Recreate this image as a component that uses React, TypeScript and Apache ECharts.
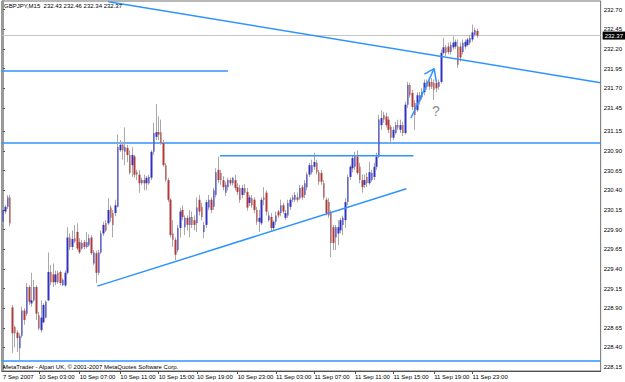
import React, { useEffect, useRef } from "react";
import * as echarts from "echarts";

// ---- candle data (GBPJPY, M15) ----
const opens = [
  230.00, 230.13, 230.19, 230.31, 228.91, 228.66, 228.59, 228.39, 228.55, 228.87,
  228.83, 229.17, 228.96, 229.00, 229.17, 228.81, 228.62, 228.72, 228.78, 229.00,
  229.36, 229.33, 229.23, 229.35, 229.36, 229.19, 229.19, 229.35, 229.80, 229.68,
  229.79, 229.87, 229.74, 229.66, 229.74, 229.68, 229.70, 229.80, 229.47, 229.60,
  229.35, 229.61, 229.85, 229.98, 229.98, 230.18, 230.11, 230.11, 230.19, 230.91,
  230.98, 230.89, 230.94, 230.85, 230.72, 230.83, 230.63, 230.60, 230.49, 230.53,
  230.49, 230.49, 230.56, 230.89, 231.08, 231.14, 231.14, 231.00, 230.72, 230.53,
  230.28, 229.85, 229.77, 229.64, 229.92, 230.15, 229.93, 230.05, 229.96, 230.06,
  230.02, 229.98, 230.28, 230.19, 229.87, 229.96, 230.18, 230.28, 230.19, 230.34,
  230.66, 230.62, 230.53, 230.37, 230.44, 230.53, 230.49, 230.53, 230.44, 230.43,
  230.34, 230.43, 230.38, 230.24, 230.30, 230.28, 230.15, 230.00, 229.98, 230.31,
  230.37, 230.02, 230.06, 229.92, 230.00, 230.13, 230.11, 230.21, 230.05, 230.08,
  230.19, 230.28, 230.28, 230.31, 230.30, 230.44, 230.34, 230.44, 230.60, 230.63,
  230.70, 230.75, 230.63, 230.62, 230.49, 230.28, 230.25, 230.11, 229.93, 229.80,
  229.85, 229.89, 229.96, 230.02, 230.25, 230.57, 230.68, 230.70, 230.83, 230.70,
  230.53, 230.47, 230.57, 230.49, 230.53, 230.57, 230.70, 230.83, 231.23, 231.36,
  231.34, 231.30, 231.21, 231.07, 231.13, 231.23, 231.17, 231.23, 231.13, 231.49,
  231.74, 231.64, 231.51, 231.42, 231.53, 231.58, 231.65, 231.72, 231.78, 231.78,
  231.77, 231.77, 231.72, 231.78, 232.15, 232.22, 232.23, 232.16, 232.22, 232.23,
  232.23, 232.23, 232.16, 232.23, 232.25, 232.28, 232.32, 232.38, 232.43,
];
const closes = [
  230.15, 230.19, 230.31, 229.98, 228.58, 228.58, 228.52, 228.55, 228.87, 228.75,
  229.17, 228.98, 229.00, 229.17, 228.83, 228.64, 228.78, 228.94, 228.98, 229.36,
  229.23, 229.23, 229.33, 229.23, 229.22, 229.26, 229.35, 229.80, 229.68, 229.78,
  229.75, 229.66, 229.61, 229.73, 229.68, 229.74, 229.79, 229.60, 229.61, 229.35,
  229.61, 229.85, 229.96, 229.89, 230.15, 230.05, 229.96, 230.21, 230.95, 230.98,
  230.91, 230.95, 230.85, 230.62, 230.85, 230.60, 230.60, 230.49, 230.53, 230.49,
  230.56, 230.57, 230.89, 231.13, 231.14, 231.11, 231.00, 230.72, 230.53, 230.28,
  229.83, 229.77, 229.58, 229.92, 230.13, 230.06, 230.05, 229.96, 230.06, 229.96,
  229.96, 230.18, 230.13, 230.06, 229.96, 230.25, 230.28, 230.15, 230.40, 230.63,
  230.53, 230.53, 230.44, 230.47, 230.53, 230.49, 230.56, 230.43, 230.38, 230.28,
  230.43, 230.37, 230.18, 230.31, 230.21, 230.15, 230.00, 230.05, 230.28, 230.28,
  230.13, 230.08, 229.92, 230.00, 230.08, 230.08, 230.21, 230.13, 230.11, 230.24,
  230.28, 230.31, 230.34, 230.28, 230.43, 230.31, 230.49, 230.60, 230.72, 230.72,
  230.76, 230.63, 230.51, 230.51, 230.31, 230.11, 230.08, 229.73, 229.73, 229.93,
  229.93, 230.02, 230.05, 230.25, 230.57, 230.70, 230.81, 230.83, 230.62, 230.53,
  230.44, 230.53, 230.49, 230.63, 230.62, 230.70, 230.83, 231.30, 231.32, 231.30,
  231.23, 231.17, 231.07, 231.17, 231.23, 231.20, 231.23, 231.13, 231.49, 231.74,
  231.61, 231.46, 231.36, 231.61, 231.61, 231.65, 231.77, 231.77, 231.72, 231.72,
  231.68, 231.70, 231.78, 232.15, 232.22, 232.15, 232.16, 232.25, 232.28, 232.29,
  232.00, 232.09, 232.28, 232.29, 232.32, 232.34, 232.41, 232.44, 232.37,
];
const lows = [
  229.97, 230.10, 230.16, 229.94, 228.33, 228.40, 228.34, 228.24, 228.52, 228.69,
  228.80, 228.94, 228.92, 228.98, 228.75, 228.62, 228.59, 228.71, 228.77, 228.99,
  229.19, 229.17, 229.19, 229.21, 229.19, 229.18, 229.17, 229.33, 229.64, 229.64,
  229.73, 229.64, 229.59, 229.64, 229.65, 229.66, 229.68, 229.58, 229.45, 229.22,
  229.32, 229.59, 229.82, 229.87, 229.96, 230.00, 229.80, 230.07, 230.18, 230.89,
  230.79, 230.72, 230.76, 230.60, 230.57, 230.56, 230.53, 230.37, 230.47, 230.40,
  230.40, 230.47, 230.53, 230.85, 231.04, 231.04, 230.98, 230.70, 230.51, 230.25,
  229.80, 229.68, 229.51, 229.61, 229.80, 230.02, 229.83, 229.89, 229.80, 229.92,
  229.89, 229.87, 230.08, 230.02, 229.79, 229.92, 230.15, 230.11, 230.15, 230.31,
  230.49, 230.47, 230.40, 230.33, 230.40, 230.46, 230.46, 230.40, 230.34, 230.24,
  230.30, 230.34, 230.14, 230.20, 230.18, 230.11, 229.96, 229.87, 229.96, 230.21,
  230.08, 230.00, 229.87, 229.89, 229.96, 230.05, 230.07, 230.10, 230.02, 230.05,
  230.15, 230.25, 230.25, 230.25, 230.28, 230.28, 230.30, 230.40, 230.57, 230.60,
  230.66, 230.60, 230.47, 230.47, 230.28, 230.08, 230.05, 229.55, 229.64, 229.64,
  229.70, 229.85, 229.83, 229.92, 230.21, 230.53, 230.63, 230.66, 230.60, 230.49,
  230.37, 230.43, 230.44, 230.47, 230.51, 230.53, 230.66, 230.81, 231.17, 231.26,
  231.20, 231.13, 231.00, 231.04, 231.11, 231.17, 231.13, 231.09, 231.11, 231.45,
  231.58, 231.42, 231.17, 231.40, 231.49, 231.55, 231.61, 231.68, 231.68, 231.69,
  231.55, 231.65, 231.68, 231.76, 232.13, 232.11, 232.13, 232.13, 232.19, 232.20,
  231.96, 232.04, 232.13, 232.20, 232.23, 232.25, 232.29, 232.36, 232.34,
];
const highs = [
  230.18, 230.21, 230.34, 230.34, 228.94, 228.68, 228.62, 228.58, 228.92, 228.90,
  229.22, 229.19, 229.35, 229.26, 229.19, 228.85, 229.00, 228.96, 229.00, 229.61,
  229.45, 229.47, 229.38, 229.38, 229.38, 229.28, 229.38, 229.93, 229.85, 229.89,
  229.96, 229.98, 229.79, 229.77, 229.77, 229.87, 229.84, 229.83, 229.64, 229.63,
  229.64, 229.89, 230.00, 230.02, 230.30, 230.21, 230.15, 230.28, 231.11, 231.04,
  231.02, 231.20, 230.98, 230.91, 230.95, 230.85, 230.66, 230.66, 230.56, 230.60,
  230.58, 230.60, 230.91, 231.26, 231.50, 231.34, 231.30, 231.04, 230.75, 230.56,
  230.30, 230.02, 229.80, 229.96, 230.18, 230.21, 230.08, 230.08, 230.15, 230.13,
  230.08, 230.31, 230.34, 230.24, 230.00, 230.28, 230.34, 230.31, 230.43, 230.68,
  230.83, 230.66, 230.58, 230.51, 230.56, 230.56, 230.57, 230.60, 230.49, 230.47,
  230.47, 230.48, 230.43, 230.34, 230.34, 230.31, 230.19, 230.15, 230.31, 230.44,
  230.40, 230.13, 230.11, 230.02, 230.13, 230.15, 230.28, 230.24, 230.15, 230.28,
  230.31, 230.34, 230.38, 230.37, 230.47, 230.47, 230.53, 230.63, 230.75, 230.79,
  230.88, 230.79, 230.66, 230.66, 230.53, 230.31, 230.30, 230.15, 229.96, 229.96,
  230.02, 230.05, 230.08, 230.30, 230.60, 230.72, 230.85, 230.89, 230.91, 230.75,
  230.60, 230.60, 230.62, 230.76, 230.66, 230.75, 230.88, 231.36, 231.42, 231.40,
  231.39, 231.34, 231.23, 231.21, 231.27, 231.30, 231.30, 231.27, 231.53, 231.78,
  231.77, 231.68, 231.55, 231.65, 231.65, 231.70, 231.81, 231.81, 231.81, 231.83,
  231.81, 231.81, 231.81, 232.19, 232.34, 232.25, 232.28, 232.29, 232.36, 232.32,
  232.32, 232.28, 232.32, 232.32, 232.34, 232.38, 232.51, 232.47, 232.46,
];

// ---- axes ----
const slotCount = 250; // bar slots visible on the chart (incl. empty right shift)
const timeLabels = [
  "7 Sep 2007", "10 Sep 03:00", "10 Sep 07:00", "10 Sep 11:00", "10 Sep 15:00",
  "10 Sep 19:00", "10 Sep 23:00", "11 Sep 03:00", "11 Sep 07:00", "11 Sep 11:00",
  "11 Sep 15:00", "11 Sep 19:00", "11 Sep 23:00",
];
const labelBars = [0, 15, 32, 49, 65, 81, 98, 114, 130, 147, 163, 180, 196];
const priceTicks = [
  232.70, 232.45, 232.20, 231.95, 231.70, 231.45, 231.15, 230.90, 230.65, 230.40,
  230.15, 229.90, 229.65, 229.40, 229.15, 228.90, 228.65, 228.40, 228.15,
];
const priceMin = 228.10;
const priceMax = 232.81;

// ---- header / drawing objects ----
const symbolTitle = "GBPJPY,M15  232.43 232.46 232.34 232.37";
const lastPrice = 232.37;
const copyright = "MetaTrader - Alpari UK, © 2001-2007 MetaQuotes Software Corp.";
const fullLevels = [231.00, 228.23];
const trendDown = [[44.0, 232.80], [249.5, 231.77]];
const trendUp = [[39.4, 229.18], [168.4, 230.42]];
const levelLeft = [[-0.5, 231.92], [93.9, 231.92]];
const levelMid = [[90.6, 230.84], [171.3, 230.84]];
const arrowShaft = [[170.3, 231.32], [180.0, 231.95]];
const arrowHead = [[175.9, 231.88], [180.0, 231.95], [180.9, 231.78]];

const BLUE_LINE = "#2f93ff";
const BULL = "#3232c2";
const BEAR = "#b03a3a";
const WICK = "#a9a9a9";
const FONT = "Liberation Sans";

export default function App() {
  const ref = useRef<HTMLDivElement>(null);

  useEffect(() => {
    if (!ref.current) return;
    const chart = echarts.init(ref.current, undefined, { renderer: "svg" });

    const categories = Array.from({ length: slotCount }, (_, i) => String(i));
    const labelMap: Record<number, string> = {};
    labelBars.forEach((b, k) => (labelMap[b] = timeLabels[k]));
    const isLabel = (i: number) => labelMap[i] !== undefined;

    const full = opens.map((o, i) => [o, closes[i], lows[i], highs[i]]);
    const bodies = opens.map((o, i) => [
      o,
      closes[i],
      Math.min(o, closes[i]),
      Math.max(o, closes[i]),
    ]);

    const seg = (data: number[][]) => ({
      type: "line",
      xAxisIndex: 1,
      yAxisIndex: 0,
      data,
      symbol: "none",
      silent: true,
      lineStyle: { color: BLUE_LINE, width: 1.5 },
      z: 5,
    });

    chart.setOption({
      animation: false,
      backgroundColor: "#ffffff",
      grid: {
        left: 1,
        right: 23,
        top: 1,
        bottom: 11,
        show: true,
        borderColor: "#707070",
        borderWidth: 1,
        backgroundColor: "#ffffff",
      },
      xAxis: [
        {
          type: "category",
          data: categories,
          boundaryGap: true,
          axisLine: { show: true, lineStyle: { color: "#505050", width: 1 } },
          axisTick: {
            show: true,
            alignWithLabel: true,
            interval: (i: number) => isLabel(i) && i > 0,
            length: 3,
            lineStyle: { color: "#505050" },
          },
          axisLabel: {
            interval: (i: number) => isLabel(i),
            formatter: (_v: string, i: number) => labelMap[i] ?? "",
            align: "left",
            fontSize: 6,
            fontFamily: FONT,
            color: "#000",
            margin: 3,
          },
          splitLine: { show: false },
        },
        {
          type: "value",
          min: -0.5,
          max: slotCount - 0.5,
          show: false,
        },
      ],
      yAxis: {
        type: "value",
        position: "right",
        min: priceMin,
        max: priceMax,
        axisLine: { show: true, lineStyle: { color: "#9a9a9a", width: 2 } },
        axisTick: { show: true, length: 2, customValues: priceTicks, lineStyle: { color: "#505050" } },
        axisLabel: {
          customValues: priceTicks,
          formatter: (v: number) => v.toFixed(2),
          fontSize: 6,
          fontFamily: FONT,
          color: "#000",
          margin: 3,
        },
        splitLine: { show: false },
      },
      graphic: [
        {
          type: "text",
          left: 4,
          top: 3,
          style: { text: symbolTitle, fill: "#000", font: `6px "${FONT}"` },
          z: 10,
        },
        {
          type: "text",
          left: 3,
          top: 364,
          style: { text: copyright, fill: "#000", font: `6px "${FONT}"` },
          z: 10,
        },
        {
          type: "text",
          left: 432,
          top: 104,
          style: { text: "?", fill: "#8c8c8c", font: `14px "${FONT}"` },
          z: 10,
        },
      ],
      series: [
        {
          type: "candlestick",
          name: "wicks",
          data: full,
          barWidth: 1,
          silent: true,
          itemStyle: {
            color: WICK,
            color0: WICK,
            borderColor: WICK,
            borderColor0: WICK,
            borderWidth: 1,
          },
          markLine: {
            silent: true,
            symbol: "none",
            z: 1,
            data: [
              ...fullLevels.map((v) => ({
                yAxis: v,
                lineStyle: { color: BLUE_LINE, width: 1.5, type: "solid" },
                label: { show: false },
              })),
              {
                yAxis: lastPrice,
                lineStyle: { color: "#c4c4c4", width: 1, type: "solid" },
                label: {
                  show: true,
                  position: "end",
                  formatter: lastPrice.toFixed(2),
                  backgroundColor: "#000",
                  color: "#fff",
                  fontSize: 6,
                  fontFamily: FONT,
                  padding: [1, 2, 1, 2],
                  distance: 2,
                },
              },
            ],
          },
          z: 2,
        },
        {
          type: "candlestick",
          name: "bodies",
          data: bodies,
          barWidth: 2,
          silent: true,
          itemStyle: {
            color: BULL,
            color0: BEAR,
            borderColor: BULL,
            borderColor0: BEAR,
            borderWidth: 0,
          },
          z: 3,
        },
        seg(trendDown),
        seg(trendUp),
        seg(levelLeft),
        seg(levelMid),
        seg(arrowShaft),
        seg(arrowHead),
      ],
    });

    return () => chart.dispose();
  }, []);

  return (
    <div
      ref={ref}
      style={{ position: "absolute", left: 0, top: 0, width: 625, height: 382 }}
    />
  );
}
